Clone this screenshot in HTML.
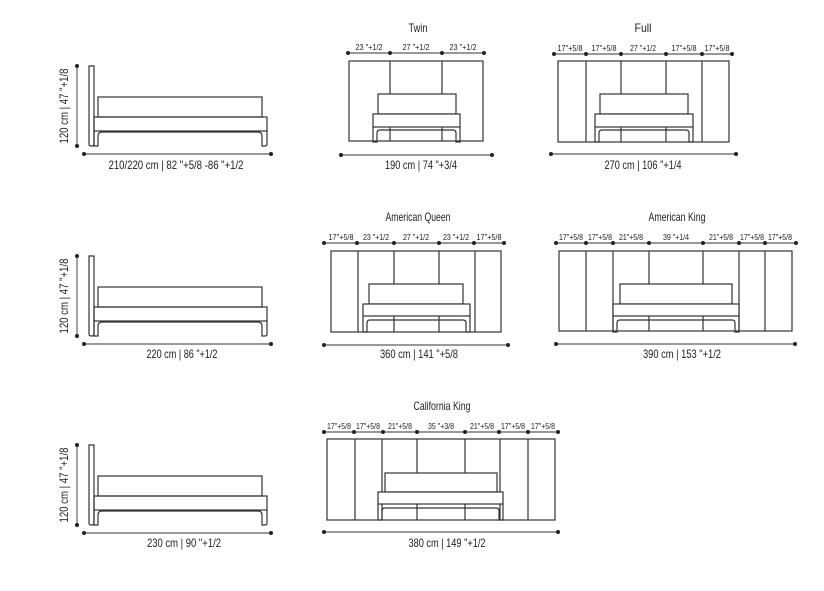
<!DOCTYPE html>
<html><head><meta charset="utf-8"><style>
html,body{margin:0;padding:0;background:#fff;}
svg{display:block;font-family:"Liberation Sans Narrow","Liberation Sans",sans-serif;}
.s{fill:none;stroke:#333;stroke-width:1.2}
.w{fill:#fff;stroke:#333;stroke-width:1.2}
.d{stroke:#333;stroke-width:0.9}
.t{font-size:12px;fill:#222;text-anchor:middle}
.m{font-size:8.5px;fill:#222;text-anchor:middle}
</style></head><body>
<svg width="824" height="591" viewBox="0 0 824 591">
<defs>
<g id="side">
<line class="d" x1="77" y1="0" x2="77" y2="80"/><circle cx="77" cy="0" r="2" fill="#222"/><circle cx="77" cy="80" r="2" fill="#222"/>
<path class="s" d="M89,0 h5 v78 q0,2 -2,2 h-1 q-2,0 -2,-2 z"/>
<rect class="s" x="98" y="31" width="164" height="20"/>
<rect class="s" x="94" y="51" width="173" height="14"/>
<path class="s" d="M94,65 v15 h4 v-10 q0,-4 4,-4 h156 q4,0 4,4 v10 h3 q2,0 2,-2 v-13"/>
<line class="d" x1="84" y1="88" x2="271" y2="88"/><circle cx="84" cy="88" r="2" fill="#222"/><circle cx="271" cy="88" r="2" fill="#222"/>
</g>
</defs>

<g transform="translate(0,66)"><use href="#side"/>
<text class="t" x="176" y="103" textLength="135" lengthAdjust="spacingAndGlyphs">210/220 cm | 82 "+5/8 -86 "+1/2</text>
<text class="t" transform="translate(68,40) rotate(-90)" textLength="75" lengthAdjust="spacingAndGlyphs">120 cm | 47 "+1/8</text></g>
<g transform="translate(0,256)"><use href="#side"/>
<text class="t" x="182" y="102" textLength="71" lengthAdjust="spacingAndGlyphs">220 cm | 86 "+1/2</text>
<text class="t" transform="translate(68,40) rotate(-90)" textLength="75" lengthAdjust="spacingAndGlyphs">120 cm | 47 "+1/8</text></g>
<g transform="translate(0,445)"><use href="#side"/>
<text class="t" x="184" y="102" textLength="74" lengthAdjust="spacingAndGlyphs">230 cm | 90 "+1/2</text>
<text class="t" transform="translate(68,40) rotate(-90)" textLength="75" lengthAdjust="spacingAndGlyphs">120 cm | 47 "+1/8</text></g>

<!-- Twin -->
<text class="t" x="418" y="32" textLength="19" lengthAdjust="spacingAndGlyphs">Twin</text>
<line class="d" x1="348" y1="53" x2="484" y2="53"/>
<g fill="#222"><circle cx="348" cy="53" r="2"/><circle cx="390" cy="53" r="2"/><circle cx="442" cy="53" r="2"/><circle cx="484" cy="53" r="2"/></g>
<text class="m" x="369" y="50" textLength="27" lengthAdjust="spacingAndGlyphs">23 "+1/2</text><text class="m" x="416" y="50" textLength="27" lengthAdjust="spacingAndGlyphs">27 "+1/2</text><text class="m" x="463" y="50" textLength="27" lengthAdjust="spacingAndGlyphs">23 "+1/2</text>
<rect class="s" x="349" y="61" width="134" height="80"/>
<line class="s" x1="390" y1="61" x2="390" y2="141"/><line class="s" x1="442" y1="61" x2="442" y2="141"/>
<rect class="w" x="378" y="94" width="78" height="20"/>
<rect class="w" x="373" y="114" width="87" height="13"/>
<path class="s" d="M373,127 v15 h4 v-9 q0,-3 3,-3 h73 q3,0 3,3 v9 h4 v-15"/>
<line class="d" x1="341" y1="155" x2="492" y2="155"/><circle cx="341" cy="155" r="2" fill="#222"/><circle cx="492" cy="155" r="2" fill="#222"/>
<text class="t" x="421" y="169" textLength="72" lengthAdjust="spacingAndGlyphs">190 cm | 74 "+3/4</text>

<!-- Full -->
<text class="t" x="643" y="32" textLength="17" lengthAdjust="spacingAndGlyphs">Full</text>
<line class="d" x1="554" y1="54" x2="732" y2="54"/>
<g fill="#222"><circle cx="554" cy="54" r="2"/><circle cx="586" cy="54" r="2"/><circle cx="621" cy="54" r="2"/><circle cx="666" cy="54" r="2"/><circle cx="702" cy="54" r="2"/><circle cx="732" cy="54" r="2"/></g>
<text class="m" x="570" y="51" textLength="25" lengthAdjust="spacingAndGlyphs">17"+5/8</text><text class="m" x="604" y="51" textLength="25" lengthAdjust="spacingAndGlyphs">17"+5/8</text><text class="m" x="643" y="51" textLength="26" lengthAdjust="spacingAndGlyphs">27 "+1/2</text><text class="m" x="684" y="51" textLength="25" lengthAdjust="spacingAndGlyphs">17"+5/8</text><text class="m" x="717" y="51" textLength="25" lengthAdjust="spacingAndGlyphs">17"+5/8</text>
<rect class="s" x="558" y="61" width="171" height="81"/>
<line class="s" x1="586" y1="61" x2="586" y2="142"/><line class="s" x1="621" y1="61" x2="621" y2="142"/><line class="s" x1="666" y1="61" x2="666" y2="142"/><line class="s" x1="702" y1="61" x2="702" y2="142"/>
<rect class="w" x="600" y="94" width="88" height="20"/>
<rect class="w" x="595" y="114" width="98" height="13"/>
<path class="s" d="M595,127 v15 h4 v-9 q0,-3 3,-3 h84 q3,0 3,3 v9 h4 v-15"/>
<line class="d" x1="551" y1="154" x2="736" y2="154"/><circle cx="551" cy="154" r="2" fill="#222"/><circle cx="736" cy="154" r="2" fill="#222"/>
<text class="t" x="643" y="169" textLength="77" lengthAdjust="spacingAndGlyphs">270 cm | 106 "+1/4</text>

<!-- American Queen -->
<text class="t" x="418" y="221" textLength="65" lengthAdjust="spacingAndGlyphs">American Queen</text>
<line class="d" x1="324" y1="243" x2="504" y2="243"/>
<g fill="#222"><circle cx="324" cy="243" r="2"/><circle cx="357" cy="243" r="2"/><circle cx="394" cy="243" r="2"/><circle cx="439" cy="243" r="2"/><circle cx="474" cy="243" r="2"/><circle cx="504" cy="243" r="2"/></g>
<text class="m" x="341" y="240" textLength="25" lengthAdjust="spacingAndGlyphs">17"+5/8</text><text class="m" x="376" y="240" textLength="26" lengthAdjust="spacingAndGlyphs">23 "+1/2</text><text class="m" x="416" y="240" textLength="26" lengthAdjust="spacingAndGlyphs">27 "+1/2</text><text class="m" x="456" y="240" textLength="26" lengthAdjust="spacingAndGlyphs">23 "+1/2</text><text class="m" x="489" y="240" textLength="25" lengthAdjust="spacingAndGlyphs">17"+5/8</text>
<rect class="s" x="331" y="251" width="170" height="81"/>
<line class="s" x1="358" y1="251" x2="358" y2="332"/><line class="s" x1="394" y1="251" x2="394" y2="332"/><line class="s" x1="439" y1="251" x2="439" y2="332"/><line class="s" x1="475" y1="251" x2="475" y2="332"/>
<rect class="w" x="369" y="284" width="94" height="20"/>
<rect class="w" x="363" y="304" width="107" height="12"/>
<path class="s" d="M363,316 v16 h4 v-9 q0,-3 3,-3 h93 q3,0 3,3 v9 h4 v-16"/>
<line class="d" x1="324" y1="345" x2="508" y2="345"/><circle cx="324" cy="345" r="2" fill="#222"/><circle cx="508" cy="345" r="2" fill="#222"/>
<text class="t" x="419" y="358" textLength="78" lengthAdjust="spacingAndGlyphs">360 cm | 141 "+5/8</text>

<!-- American King -->
<text class="t" x="677" y="221" textLength="57" lengthAdjust="spacingAndGlyphs">American King</text>
<line class="d" x1="556" y1="243" x2="796" y2="243"/>
<g fill="#222"><circle cx="556" cy="243" r="2"/><circle cx="586" cy="243" r="2"/><circle cx="613" cy="243" r="2"/><circle cx="649" cy="243" r="2"/><circle cx="703" cy="243" r="2"/><circle cx="739" cy="243" r="2"/><circle cx="765" cy="243" r="2"/><circle cx="796" cy="243" r="2"/></g>
<text class="m" x="571" y="240" textLength="24" lengthAdjust="spacingAndGlyphs">17"+5/8</text><text class="m" x="600" y="240" textLength="24" lengthAdjust="spacingAndGlyphs">17"+5/8</text><text class="m" x="631" y="240" textLength="24" lengthAdjust="spacingAndGlyphs">21"+5/8</text><text class="m" x="676" y="240" textLength="26" lengthAdjust="spacingAndGlyphs">39 "+1/4</text><text class="m" x="721" y="240" textLength="24" lengthAdjust="spacingAndGlyphs">21"+5/8</text><text class="m" x="752" y="240" textLength="24" lengthAdjust="spacingAndGlyphs">17"+5/8</text><text class="m" x="780" y="240" textLength="24" lengthAdjust="spacingAndGlyphs">17"+5/8</text>
<rect class="s" x="559" y="251" width="233" height="80"/>
<line class="s" x1="586" y1="251" x2="586" y2="331"/><line class="s" x1="613" y1="251" x2="613" y2="331"/><line class="s" x1="649" y1="251" x2="649" y2="331"/><line class="s" x1="703" y1="251" x2="703" y2="331"/><line class="s" x1="739" y1="251" x2="739" y2="331"/><line class="s" x1="765" y1="251" x2="765" y2="331"/>
<rect class="w" x="620" y="284" width="112" height="20"/>
<rect class="w" x="613" y="304" width="126" height="12"/>
<path class="s" d="M613,316 v16 h4 v-9 q0,-3 3,-3 h112 q3,0 3,3 v9 h4 v-16"/>
<line class="d" x1="556" y1="344" x2="795" y2="344"/><circle cx="556" cy="344" r="2" fill="#222"/><circle cx="795" cy="344" r="2" fill="#222"/>
<text class="t" x="682" y="358" textLength="78" lengthAdjust="spacingAndGlyphs">390 cm | 153 "+1/2</text>

<!-- California King -->
<text class="t" x="442" y="410" textLength="57" lengthAdjust="spacingAndGlyphs">California King</text>
<line class="d" x1="324" y1="432" x2="558" y2="432"/>
<g fill="#222"><circle cx="324" cy="432" r="2"/><circle cx="354" cy="432" r="2"/><circle cx="383" cy="432" r="2"/><circle cx="417" cy="432" r="2"/><circle cx="465" cy="432" r="2"/><circle cx="499" cy="432" r="2"/><circle cx="528" cy="432" r="2"/><circle cx="558" cy="432" r="2"/></g>
<text class="m" x="339" y="429" textLength="24" lengthAdjust="spacingAndGlyphs">17"+5/8</text><text class="m" x="368" y="429" textLength="24" lengthAdjust="spacingAndGlyphs">17"+5/8</text><text class="m" x="400" y="429" textLength="24" lengthAdjust="spacingAndGlyphs">21"+5/8</text><text class="m" x="441" y="429" textLength="26" lengthAdjust="spacingAndGlyphs">35 "+3/8</text><text class="m" x="482" y="429" textLength="24" lengthAdjust="spacingAndGlyphs">21"+5/8</text><text class="m" x="513" y="429" textLength="24" lengthAdjust="spacingAndGlyphs">17"+5/8</text><text class="m" x="543" y="429" textLength="24" lengthAdjust="spacingAndGlyphs">17"+5/8</text>
<rect class="s" x="327" y="439" width="228" height="81"/>
<line class="s" x1="355" y1="439" x2="355" y2="520"/><line class="s" x1="382" y1="439" x2="382" y2="520"/><line class="s" x1="417" y1="439" x2="417" y2="520"/><line class="s" x1="465" y1="439" x2="465" y2="520"/><line class="s" x1="500" y1="439" x2="500" y2="520"/><line class="s" x1="528" y1="439" x2="528" y2="520"/>
<rect class="w" x="385" y="473" width="112" height="19"/>
<rect class="w" x="378" y="492" width="125" height="12"/>
<path class="s" d="M378,504 v16 h4 v-9 q0,-3 3,-3 h111 q3,0 3,3 v9 h4 v-16"/>
<line class="d" x1="324" y1="532" x2="558" y2="532"/><circle cx="324" cy="532" r="2" fill="#222"/><circle cx="558" cy="532" r="2" fill="#222"/>
<text class="t" x="447" y="547" textLength="77" lengthAdjust="spacingAndGlyphs">380 cm | 149 "+1/2</text>
</svg>
</body></html>
